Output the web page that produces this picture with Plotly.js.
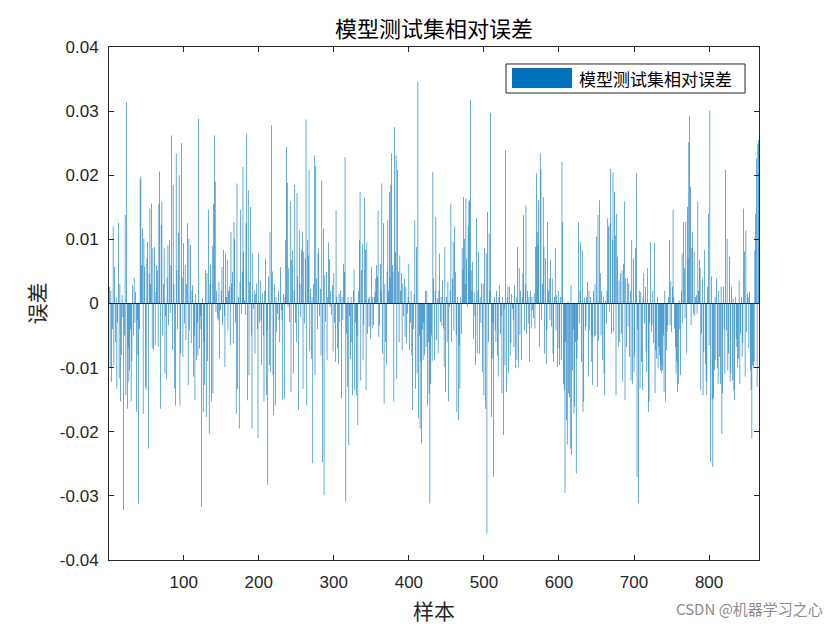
<!DOCTYPE html>
<html>
<head>
<meta charset="utf-8">
<script src="https://cdn.plot.ly/plotly-3.0.1.min.js"></script>
<style>
  html, body { margin: 0; padding: 0; background: #fff; }
  #chart { width: 840px; height: 630px; }
</style>
</head>
<body>
<div id="chart"></div>
<script>
// 模型测试集相对误差 in thousandths, 72 samples per block (last one 74)
const errBlock1 = [2.6,-10.1,2,-12.2,-4,12,-9.6,5.7,-6,1,-13.3,-3,12.6,-11.7,3,-15.3,-8,1.3,-2.1,-32.2,-5,13.8,-14.3,31.4,-16.4,-7,-12.2,-10.4,-4,-15.3,-9,2.9,-5,4,-3,1.8,-16.9,-2.6,-8,-31.2,-4,19.4,19.8,6,11.7,-17.2,10.1,5.7,-13,-13.5,7,9.6,-22.6,4.7,14.8,3,15.6,-7,8.6,-7.3,8.8,-6.5,1.8,6,5.2,-6.8,15.6,20.6,-16.4,12.2,15.9,-5];
const errBlock2 = [3,8.6,-10.9,-2,-11.7,4,9.1,-3.4,9.9,-1.5,6,26.2,-7.3,18.5,3,-13.3,-15.9,23.4,5.2,-4,11,20,-15.9,-7.8,25,4,-8.3,9.4,-3.1,6,-5.7,3,12.5,-12.7,10.1,-4.2,9.1,-6.2,2,2.9,-11.4,-5,-15.1,1.5,-8.8,-3,-8.1,28.8,-7,-2,-4,-31.7,0.8,-16.9,-6,-12.7,5.2,-17.7,4.7,-9,14.6,-20.3,3,6.1,-15.3,9,-14,15.6,26.2,19,-1.3,2];
const errBlock3 = [-2.3,-2.6,3.4,-8.6,-1,2,5.7,-3.4,8.4,-2,-9.9,7.8,1,6.8,-4.2,2,2.6,-6.5,11.2,3.1,4.9,-6.2,12.7,10.1,-3,-17.2,18.7,-13.3,1,-19.5,3.4,14.6,-1.6,5,21.3,8.1,0.5,-1.8,12.5,26.5,-15.1,17.7,-11.2,3.4,15.1,-5,-19.5,7.8,-0.8,2,-7.8,1.5,3.1,-4,-21,7.8,-3,3.6,-2.6,-9.6,1.6,-5,-15.3,2,7,-14.3,-4.2,-28.3,4.2,-9.6,11.2,-10.7];
const errBlock4 = [27.8,5,-11.2,-17.4,3,-15.9,1,-4.4,-1.6,2,-2.6,-6,5.7,-1,-2.6,-15.1,1.5,-14.8,1,9.9,24.4,18.8,-0.5,5.5,-2.9,15.9,-13.8,6.8,8.3,-10.9,2,18.5,-3,-6,17.2,4.2,-16.6,11.4,3.1,-2.1,8.3,11.2,-13.3,8.1,-3.1,7,28.7,-15.9,9.9,7.5,20.8,-7.5,2.3,-8.6,1,-24.9,3,23.1,-11.2,21.4,3.9,-4,7.8,8.6,-2,2.3,-8.1,19.2,-24.7,11.7,-29.9,4.4];
const errBlock5 = [-2.9,4.9,-8.8,1,9.5,6.9,-0.5,2,-1.8,2.9,-7.5,4.7,-3,-9.1,14.6,1,-7,-9.4,1.5,-2.9,2,-14.8,1,-2.6,6.2,4.9,22.8,-30.9,-4.7,-13,1,-22.1,-2,-8.6,1,-6,-14.3,2,5.3,-13.5,-3,-14.3,-5,-19,2,9.9,17.4,-12,5.2,9.3,-8.8,-3.4,16.5,8.4,-13.5,9.6,-4.7,0.8,-3.6,1.1,-5.5,5.7,-3.9,1,-3.4,1,1.8,3.9,6,4.2,14.5,-5.2];
const errBlock6 = [-3.4,6.2,2,18.7,-7.8,12.5,-15.6,3,-6,-9.6,5,13,2,17.4,4,18.5,23.4,6,4.9,-15.3,27.5,8,23.1,-11.7,20.8,5,-6,7.5,2,4.7,-7.3,3.1,-2,3.9,-5.2,2.6,-6.2,-1.6,1,6.2,-7.3,-3,2,-8.1,-16.6,-4,1.5,13,-13.3,8.8,-10.9,34.6,-17.9,-5,-19.5,-9,-21.8,-4,-8.8,-3,-8.1,2,-6.8,2,-15.9,-6,-14,-31.2,-12.5,-5,-9,20.5];
const errBlock7 = [3.9,-8.8,2,13.5,-5.7,0.8,-7.8,2,7.8,-2.9,1,-3.4,3.6,-3.9,-9.9,8.8,-13.8,1,-6,3.4,-15.3,-0.5,2,15.6,-6,3.9,9.6,-4.2,12,4.9,-4.9,-16.9,1,-18.2,-6.5,-13.3,1,-4.7,8.6,5.3,16.6,10.1,3,16.4,7,-0.5,12,15.9,16.1,31.8,5.2,2,6.5,-5.5,1.8,-2,-9.6,13.3,-7.8,2,8.1,-7.8,1,-3,3.1,-10.7,3.1,-14.3,8.6,-16.4,7.8,-35.9];
const errBlock8 = [14.3,-6,10.9,2,29.7,-17.7,-8.6,-3,-27,1,-4.2,-6,2,-8.1,-11.4,1,2.9,-4.7,-2,-14,1,-20.5,-0.8,-9.6,23.9,-13.8,1,2.6,-10.9,2.6,-8.1,-6.2,1.5,-0.8,-2.6,-6.8,2.9,-10.1,1,-8.8,8.8,-9.9,5.5,-4.9,2,-8.8,1,4.7,13.8,-4.2,3,15.3,-4.7,2,-3.1,1,-9.1,2,-3.9,1,-1,-2.3,1.6,-3.9,8.8,20.3,11.2,9.1,16.1,-6.8,23.4,21];
const errBlock9 = [-2.6,3,16.6,8.8,-7.8,7,-9.4,-4.2,12.7,2,3.9,-2.6,6.8,-3.6,3.9,-7.8,-9.1,1,8.6,-4.2,1.3,-9.9,2,-7,-9.6,1,-8.8,22.1,12.7,-12.5,-13.5,-29.5,-6,-18.2,-22,0.3,-14,-14.6,-22.6,2.9,-23.6,-10.4,-4,-17.2,-16,-6,-26.5,-8.6,-5.7,12.7,-3.1,2,9.6,-9.1,8.3,-16.9,-15.3,0.8,-4.2,-3.6,1,3.4,-11.4,2,-4.2,1,-9.1,-5.2,-12.7,2,-5.2,3];
const errBlock10 = [-5,10.4,-13,13.8,-5.8,16.1,4.7,-5,2,-8.8,1,-10.9,-14.3,0.5,-3.1,2,13.3,12,-1.3,12.5,21,-4.7,9.9,20.5,-4.4,17.4,10.6,-14.3,14,7.3,-6.8,3.6,-6,4.7,-4.7,5.2,-12.2,6.2,15.9,-15.1,3.9,-6.8,3.9,-3.6,3.1,-8.3,2,-12,9.9,-12.5,7,-10.7,-8.3,8.6,20.3,-27,-4,-31.2,2,-13.3,1.8,-9.1,-13.5,1,4.7,-3.1,2.6,-7.5,-10.7,5.5,-16.9,-15.3];
const errBlock11 = [-3,9.6,-4.4,-3.4,2,-6.2,9.4,-14,-7.3,-8.6,1,-10.1,-6.8,-8.1,-10.4,-9.6,-10.9,-10.4,-5,-13.8,2,-15.3,-7.3,-4.4,-3.4,1,9.9,-3.4,3.4,-4.4,2.6,14.6,1,-3.9,-6.8,-10.9,-9.1,-13.8,-12.5,0.5,-4,-11.2,2,7.8,-3.1,12.7,5.5,-2.3,12.7,-7.8,15.1,7,25.2,29.2,18.2,-3.4,8.6,11.2,-1.6,8.1,-2,1,1.3,-1.6,15.9,2,6.8,5.5,-13.5,-4.7,3.9,-14.3];
const errBlock12 = [-7.6,8.3,-9.4,-12.2,-14.3,2.6,14,-6.5,30.1,-24.7,4.2,-15.1,-25.5,-14.8,-10.4,1,-8.8,3.9,-10.1,-12.5,2,-8.3,-12.5,2.6,-20.3,-14,2.6,-3.9,-10.9,20.8,-4.2,10.1,-10.4,-7.8,7.3,-12.2,-10.9,2.6,-12,0.8,-13.5,-15.1,1,-5.5,-6.8,-9.9,-8.6,3.6,-12.5,-4.7,1,-8.3,-6.2,14.8,8.1,-11.4,11.4,-4.4,1.6,1,-7,1.8,-10.4,-13.5,-21,-9.6,-10.1,-9.1,8.3,14,22.6,-13,24.9,25.5];

const xTickVals = [100, 200, 300, 400, 500, 600, 700, 800];
const yTickVals = [-0.04, -0.03, -0.02, -0.01, 0, 0.01, 0.02, 0.03, 0.04];
const yTickText = ['-0.04', '-0.03', '-0.02', '-0.01', '0', '0.01', '0.02', '0.03', '0.04'];

const seriesName = '模型测试集相对误差';

const errors = [].concat(errBlock1, errBlock2, errBlock3, errBlock4, errBlock5, errBlock6,
  errBlock7, errBlock8, errBlock9, errBlock10, errBlock11, errBlock12).map(v => v / 1000);
const samples = errors.map((_, i) => i + 1);

const ink = '#262626';
const cjk = '"Noto Sans CJK SC", sans-serif';
const num = '"Liberation Sans", Arial, sans-serif';
const barBlue = '#0072BD';

function axis(extra) {
  return {
    showline: true,
    linecolor: ink,
    linewidth: 1,
    mirror: 'ticks',
    ticks: 'inside',
    ticklen: 5,
    tickwidth: 1,
    tickcolor: ink,
    showgrid: false,
    zeroline: false,
    tickfont: { family: num, size: 17, color: ink },
    ...extra
  };
}

const trace = {
  type: 'bar',
  x: samples,
  y: errors,
  name: seriesName,
  marker: { color: barBlue, line: { width: 0 } },
  hoverinfo: 'skip',
  showlegend: false
};

const layout = {
  width: 840,
  height: 630,
  margin: { l: 109, r: 81, t: 47, b: 70 },
  paper_bgcolor: '#fff',
  plot_bgcolor: '#fff',
  bargap: 0.2,
  title: {
    text: seriesName,
    font: { family: cjk, size: 22, color: '#000' },
    xref: 'paper', x: 0.5, xanchor: 'center',
    yref: 'container', y: 0.954, yanchor: 'middle'
  },
  xaxis: axis({
    range: [0.5, 866.5],
    tickvals: xTickVals,
    ticklabelstandoff: 7,
    title: { text: '样本', font: { family: cjk, size: 21, color: ink }, standoff: 12 }
  }),
  yaxis: axis({
    range: [-0.04, 0.04],
    tickvals: yTickVals,
    ticktext: yTickText,
    ticklabelstandoff: 6,
    title: { text: '误差', font: { family: cjk, size: 21, color: ink }, standoff: 8 }
  }),
  shapes: [
    // baseline of the bars
    { type: 'line', xref: 'paper', x0: 0, x1: 1, yref: 'y', y0: 0, y1: 0, line: { color: ink, width: 1 }, layer: 'above' },
    // legend box and swatch
    { type: 'rect', xref: 'paper', yref: 'paper', x0: 0.6108, x1: 0.9785, y0: 0.9103, y1: 0.9669,
      line: { color: ink, width: 1 }, fillcolor: '#fff', layer: 'above' },
    { type: 'rect', xref: 'paper', yref: 'paper', x0: 0.62, x1: 0.7123, y0: 0.9201, y1: 0.9591,
      line: { width: 0 }, fillcolor: barBlue, layer: 'above' }
  ],
  annotations: [
    { text: seriesName, xref: 'paper', yref: 'paper', x: 0.72, y: 0.9386, xanchor: 'left', yanchor: 'middle',
      showarrow: false, font: { family: cjk, size: 17, color: '#000' } },
    { text: 'CSDN @机器学习之心', xref: 'paper', yref: 'paper', x: 1.102, y: -0.0936, xanchor: 'right', yanchor: 'middle',
      showarrow: false, font: { family: cjk, size: 15, color: '#8c8c8c' } }
  ]
};

Plotly.newPlot('chart', [trace], layout, { displayModeBar: false, staticPlot: true });
</script>
</body>
</html>
